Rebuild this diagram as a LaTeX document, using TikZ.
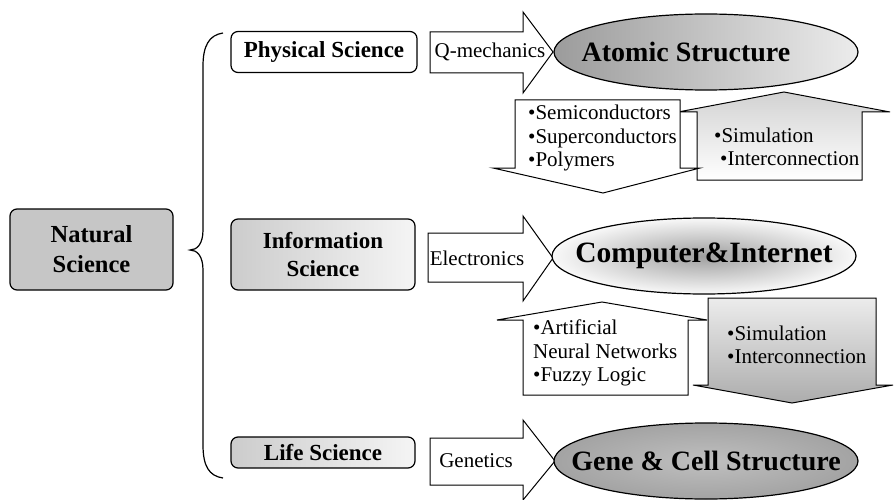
\documentclass[tikz,border=0pt]{standalone}
\usepackage{fontspec}
\setmainfont{Liberation Serif}
\usetikzlibrary{shapes.geometric}

\begin{document}
\begin{tikzpicture}[x=1pt, y=-1pt,
        sci/.style={draw, line width=1.2pt, rounded corners=7pt, inner sep=0pt, align=center,
            font=\bfseries\fontsize{23}{28}\selectfont},
        blk/.style={draw, line width=1pt, fill=white},
        note/.style={inner sep=0pt, font=\fontsize{21}{23.5}\selectfont},
        list/.style={note, anchor=west, align=left},
        orb/.style={draw, line width=1.2pt, ellipse, inner sep=0pt, minimum width=304pt, minimum height=76pt},
        orbtext/.style={inner sep=0pt, font=\bfseries\fontsize{28}{30}\selectfont}]
        \useasboundingbox (0,0) rectangle (894,500);

        % left side
        \node[sci, fill=gray!45, minimum width=163pt, minimum height=81pt,
            font=\bfseries\fontsize{24.5}{30}\selectfont] (nat) at (91.5,249.5) {Natural\\Science};
        \draw[line width=1.2pt] (223,33) .. controls (209,35) and (203,46) .. (203,66) -- (203,230)
            .. controls (203,244) and (197,250) .. (190,250)
            .. controls (197,250) and (203,256) .. (203,270) -- (203,445)
            .. controls (203,466) and (209,476) .. (223,478);

        \node[sci, fill=white, minimum width=186pt, minimum height=41pt] (phys) at (324,52) {Physical Science};
        \node[sci, left color=gray!40, right color=gray!8, minimum width=184pt, minimum height=71pt] (info) at (323,254.5) {Information\\Science};
        \node[sci, left color=gray!40, right color=gray!8, minimum width=184pt, minimum height=31pt] (life) at (323,452.5) {Life Science};

        % first row
        \draw[blk] (430,32) -- (523,32) -- (523,12) -- (553,52) -- (523,93) -- (523,73) -- (430,73) -- cycle;
        \node[note] (qmech) at (490,52) {Q-mechanics};
        \node[orb, left color=gray!78, right color=gray!15] (atom) at (706,52) {};
        \node[orbtext] (atomtext) at (686,52) {Atomic Structure};

        \draw[blk, top color=gray!35, bottom color=white] (697,180) -- (697,112) -- (678,112) -- (784,92)
            -- (890,112) -- (862,112) -- (862,180) -- cycle;
        \draw[blk] (515,100) -- (680,100) -- (680,168) -- (700,168) -- (603,193) -- (493,168) -- (515,168) -- cycle;
        \node[list] (matter) at (528,138) {\textbullet Semiconductors\\\textbullet Superconductors\\\textbullet Polymers};
        \node[list] (simA) at (714,147) {\textbullet Simulation\\\hspace{6pt}\textbullet Interconnection};

        % second row
        \draw[blk] (428,233) -- (523,233) -- (523,216) -- (553,258) -- (523,301) -- (523,282) -- (428,282) -- cycle;
        \node[note] (elec) at (477,258) {Electronics};
        \node[orb, inner color=gray!75, outer color=gray!5] (comp) at (704,256) {};
        \node[orbtext, font=\bfseries\fontsize{29.5}{30}\selectfont] (comptext) at (comp) {Computer\&Internet};

        \draw[blk] (523,395) -- (523,320) -- (497,320) -- (602,302) -- (707,320) -- (688,320) -- (688,395) -- cycle;
        \draw[blk, top color=gray!15, bottom color=gray!65] (708,298) -- (876,298) -- (876,385) -- (893,385)
            -- (792,403) -- (693,385) -- (708,385) -- cycle;
        \node[list] (neuro) at (533,353) {\textbullet Artificial\\Neural Networks\\\textbullet Fuzzy Logic};
        \node[list] (simB) at (727,345) {\textbullet Simulation\\\textbullet Interconnection};

        % third row
        \draw[blk] (430,438) -- (523,438) -- (523,420) -- (555,461) -- (523,500) -- (523,485) -- (430,485) -- cycle;
        \node[note] (gen) at (476,461) {Genetics};
        \node[orb, inner color=gray!50, outer color=gray!72] (gene) at (706,461) {};
        \node[orbtext] (genetext) at (gene) {Gene \& Cell Structure};
    \end{tikzpicture}
\end{document}
